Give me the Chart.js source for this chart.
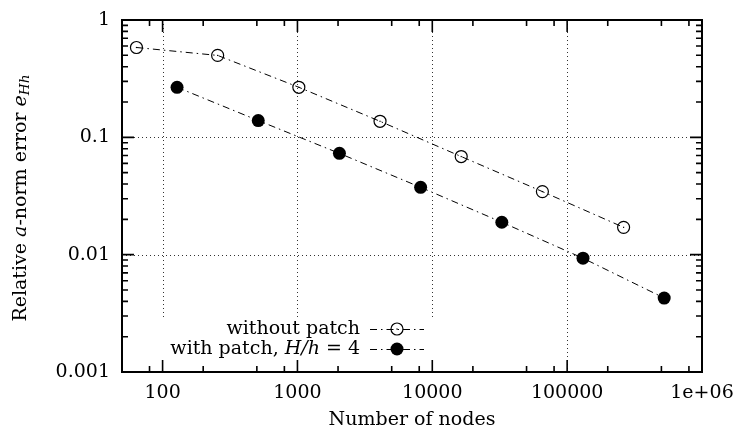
<!DOCTYPE html>
<html>
<head>
<meta charset="utf-8">
<script src="https://cdn.jsdelivr.net/npm/chart.js@4.4.4/dist/chart.umd.min.js"></script>
<style>
  body { margin: 0; background: #fff; }
  #stage { display: block; }
</style>
</head>
<body>
<canvas id="stage" width="740" height="434"></canvas>
<script>
// data
const nodesWithout = [64, 256, 1024, 4096, 16384, 65536, 262144];
const errWithout = [0.583, 0.499, 0.267, 0.137, 0.0686, 0.0345, 0.0171];
const nodesWith = [128, 512, 2048, 8192, 32768, 131072, 524288];
const errWith = [0.267, 0.139, 0.073, 0.0375, 0.0189, 0.00933, 0.00427];

const xTickValues = [100, 1000, 10000, 100000, 1000000];
const xTickLabels = ['100', '1000', '10000', '100000', '1e+06'];
const yTickValues = [0.001, 0.01, 0.1, 1];
const yTickLabels = ['0.001', '0.01', '0.1', '1'];
const xGridValues = [100, 1000, 10000, 100000];
const yGridValues = [0.01, 0.1];

const FONT = '"DejaVu Serif", "Liberation Serif", serif';
const FS = 19;
const DASH = [7, 4, 1.5, 4];

// key area (gnuplot erases the grid under it)
const key = { left: 140, right: 440, top: 320, textRight: 360, sampleL: 370, sampleR: 424, rows: [329, 349] };

const gridPlugin = {
  id: 'gridPlugin',
  beforeDatasetsDraw(chart) {
    const { ctx, chartArea: a, scales: { x, y } } = chart;
    ctx.save();
    ctx.strokeStyle = '#333';
    ctx.lineWidth = 1;
    ctx.setLineDash([1, 3]);
    xGridValues.forEach(v => {
      const px = Math.round(x.getPixelForValue(v)) + 0.5;
      const bottom = (px > key.left && px < key.right) ? key.top : a.bottom;
      ctx.beginPath();
      ctx.moveTo(px, a.top);
      ctx.lineTo(px, bottom);
      ctx.stroke();
    });
    yGridValues.forEach(v => {
      const py = Math.round(y.getPixelForValue(v)) + 0.5;
      ctx.beginPath();
      ctx.moveTo(a.left, py);
      ctx.lineTo(a.right, py);
      ctx.stroke();
    });
    ctx.restore();
  }
};

const framePlugin = {
  id: 'framePlugin',
  afterDatasetsDraw(chart) {
    const { ctx, chartArea: a, scales: { x, y } } = chart;
    ctx.save();
    // small centre dots in the open circles
    ctx.fillStyle = '#000';
    chart.getDatasetMeta(0).data.forEach(p => ctx.fillRect(p.x - 0.6, p.y - 0.6, 1.2, 1.2));

    ctx.strokeStyle = '#000';
    ctx.lineWidth = 1.6;
    ctx.setLineDash([]);
    const xt = [];
    for (let e = 1; e <= 6; e++) {
      xt.push([Math.pow(10, e), 12]);
      [2, 5, 8].forEach(m => xt.push([m * Math.pow(10, e), 6]));
    }
    xt.forEach(([v, len]) => {
      if (v < x.min || v > x.max) return;
      const px = x.getPixelForValue(v);
      ctx.beginPath();
      ctx.moveTo(px, a.bottom); ctx.lineTo(px, a.bottom - len);
      ctx.moveTo(px, a.top); ctx.lineTo(px, a.top + len);
      ctx.stroke();
    });
    const yt = [];
    for (let e = -3; e <= 0; e++) {
      yt.push([Math.pow(10, e), 12]);
      for (let m = 2; m <= 9; m++) yt.push([m * Math.pow(10, e), 6]);
    }
    yt.forEach(([v, len]) => {
      if (v < y.min * 0.999 || v > y.max * 1.001) return;
      const py = y.getPixelForValue(v);
      ctx.beginPath();
      ctx.moveTo(a.left, py); ctx.lineTo(a.left + len, py);
      ctx.moveTo(a.right, py); ctx.lineTo(a.right - len, py);
      ctx.stroke();
    });
    ctx.lineWidth = 2;
    ctx.strokeRect(a.left, a.top, a.right - a.left, a.bottom - a.top);
    ctx.restore();
  }
};

// runs of [text, italic, sub] pieces
function runWidth(ctx, parts) {
  let w = 0;
  parts.forEach(p => {
    ctx.font = (p[1] ? 'italic ' : '') + (p[2] ? FS * 0.72 : FS) + 'px ' + FONT;
    w += ctx.measureText(p[0]).width;
  });
  return w;
}
function drawRun(ctx, parts, x0, y0) {
  let cx = x0;
  parts.forEach(p => {
    ctx.font = (p[1] ? 'italic ' : '') + (p[2] ? FS * 0.72 : FS) + 'px ' + FONT;
    ctx.fillText(p[0], cx, y0 + (p[2] ? 4 : 0));
    cx += ctx.measureText(p[0]).width;
  });
}

const keyPlugin = {
  id: 'keyPlugin',
  afterDraw(chart) {
    const { ctx, data } = chart;
    ctx.save();
    ctx.fillStyle = '#000';
    ctx.textBaseline = 'middle';
    ctx.textAlign = 'left';
    const labels = [
      [['without patch', false]],
      [['with patch, ', false], ['H/h', true], [' = 4', false]]
    ];
    labels.forEach((parts, i) => {
      const ds = data.datasets[i];
      const ry = key.rows[i];
      drawRun(ctx, parts, key.textRight - runWidth(ctx, parts), ry);
      ctx.strokeStyle = '#000';
      ctx.lineWidth = 1;
      ctx.setLineDash(DASH);
      ctx.beginPath();
      ctx.moveTo(key.sampleL, ry + 0.5);
      ctx.lineTo(key.sampleR, ry + 0.5);
      ctx.stroke();
      ctx.setLineDash([]);
      const mx = (key.sampleL + key.sampleR) / 2;
      ctx.beginPath();
      ctx.arc(mx, ry, ds.pointRadius, 0, Math.PI * 2);
      if (i === 1) {
        ctx.fill();
      } else {
        ctx.lineWidth = ds.pointBorderWidth;
        ctx.stroke();
        ctx.fillRect(mx - 0.6, ry - 0.6, 1.2, 1.2);
      }
    });

    // y axis title with italic parts and a subscript
    const title = [['Relative ', false], ['a', true], ['-norm error ', false], ['e', true], ['Hh', true, true]];
    const tw = runWidth(ctx, title);
    ctx.translate(21, 198);
    ctx.rotate(-Math.PI / 2);
    drawRun(ctx, title, -tw / 2, 0);
    ctx.restore();
  }
};

new Chart(document.getElementById('stage'), {
  type: 'line',
  data: {
    datasets: [{
      label: 'without patch',
      data: nodesWithout.map((n, i) => ({ x: n, y: errWithout[i] })),
      borderColor: '#000',
      borderWidth: 1,
      borderDash: DASH,
      pointStyle: 'circle',
      pointRadius: 6,
      pointBorderWidth: 1.2,
      pointBorderColor: '#000',
      pointBackgroundColor: 'rgba(0,0,0,0)',
      tension: 0
    }, {
      label: 'with patch, H/h = 4',
      data: nodesWith.map((n, i) => ({ x: n, y: errWith[i] })),
      borderColor: '#000',
      borderWidth: 1,
      borderDash: DASH,
      pointStyle: 'circle',
      pointRadius: 6.5,
      pointBackgroundColor: '#000',
      pointBorderColor: '#000',
      pointBorderWidth: 0,
      tension: 0
    }]
  },
  options: {
    responsive: false,
    animation: false,
    layout: { padding: { left: 0, top: 20, right: 38, bottom: 0 } },
    plugins: { legend: { display: false }, tooltip: { enabled: false } },
    scales: {
      x: {
        type: 'logarithmic',
        min: 50,
        max: 1000000,
        grid: { display: false },
        border: { display: false },
        afterBuildTicks: s => { s.ticks = xTickValues.map(v => ({ value: v })); },
        afterFit: s => { s.height = 62; },
        ticks: {
          autoSkip: false,
          maxRotation: 0,
          padding: 2,
          color: '#000',
          font: { family: FONT, size: FS },
          callback: (v, i) => xTickLabels[i]
        },
        title: {
          display: true,
          text: 'Number of nodes',
          color: '#000',
          font: { family: FONT, size: FS },
          padding: { top: 4, bottom: 3 }
        }
      },
      y: {
        type: 'logarithmic',
        min: 0.001,
        max: 1,
        grid: { display: false },
        border: { display: false },
        afterBuildTicks: s => { s.ticks = yTickValues.map(v => ({ value: v })); },
        afterFit: s => { s.width = 122; },
        ticks: {
          autoSkip: false,
          padding: 4,
          color: '#000',
          font: { family: FONT, size: FS },
          callback: (v, i) => yTickLabels[i]
        }
      }
    }
  },
  plugins: [gridPlugin, framePlugin, keyPlugin]
});
</script>
</body>
</html>
